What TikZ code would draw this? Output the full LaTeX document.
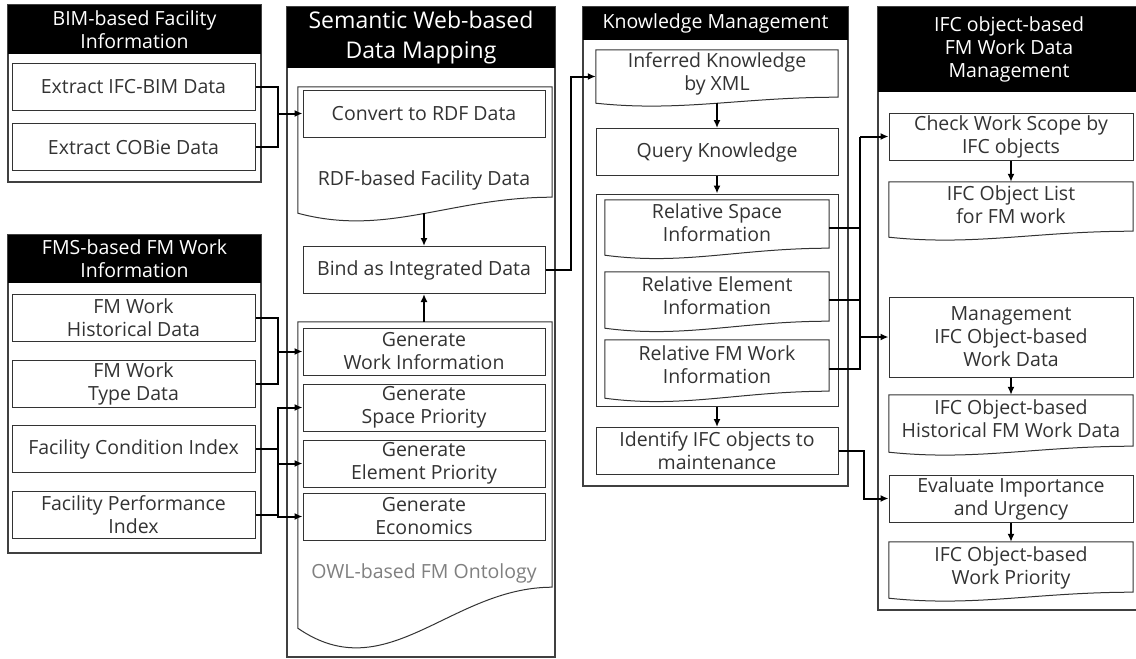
\documentclass[tikz,border=0pt]{standalone}
\usepackage{fontspec}
\setmainfont{Open Sans}
\usetikzlibrary{positioning,arrows.meta,calc}

\tikzset{
  group/.style={draw=black!75, line width=1.3pt, fill=white, inner sep=0pt},
  head/.style={fill=black, text=white, inner sep=0pt, align=center, font=\fontsize{19.5}{23}\selectfont},
  box/.style={draw=black!80, line width=1pt, fill=white, inner sep=0pt, align=center, text=black!80,
    font=\fontsize{19.5}{23}\selectfont, minimum width=242pt, minimum height=47pt},
  doc/.style={inner sep=0pt, align=center, text=black!80, font=\fontsize{19.5}{23}\selectfont,
    minimum width=242pt, text depth=9pt},
  docline/.style={draw=black!80, line width=1pt},
  plain/.style={inner sep=0pt, text=black!80, font=\fontsize{19.5}{23}\selectfont},
  link/.style={line width=2pt},
  arrow/.style={-{Latex[length=8pt,width=7pt]}, line width=2pt}
}

% document symbol: straight top and sides, wavy bottom
\newcommand{\docoutline}[2]{%
  \draw[docline] (#1.north west) -- (#1.north east) -- ([yshift=#2pt]#1.south east)
    .. controls ([yshift=#2pt]$(#1.south west)!0.6!(#1.south east)$)
    and ([yshift=-1.5*#2pt]$(#1.south west)!0.35!(#1.south east)$) .. (#1.south west) -- cycle;}

\begin{document}
\begin{tikzpicture}[x=1pt, y=-1pt]
  \useasboundingbox (0,0) rectangle (1136,659);

  % BIM / FMS sources
  \node[group, minimum width=253pt, minimum height=177pt] (bimgrp) at (134.5,93.5) {};
  \node[head, minimum width=253pt, minimum height=49pt] (bimhead) at (134.5,29.5) {BIM-based Facility\\Information};
  \node[box, minimum width=243pt] (ifcbim) at (133.5,86.5) {Extract IFC-BIM Data};
  \node[box, minimum width=243pt] (cobie) at (133.5,147) {Extract COBie Data};

  \node[group, minimum width=253pt, minimum height=318pt] (fmsgrp) at (134.5,394) {};
  \node[head, minimum width=253pt, minimum height=48pt] (fmshead) at (134.5,259) {FMS-based FM Work\\Information};
  \node[box, minimum width=243pt] (hist) at (133.5,318) {FM Work\\Historical Data};
  \node[box, minimum width=243pt] (type) at (133.5,383.5) {FM Work\\Type Data};
  \node[box, minimum width=243pt] (fci) at (133.5,449) {Facility Condition Index};
  \node[box, minimum width=243pt] (fpi) at (133.5,515) {Facility Performance\\Index};

  % semantic web mapping
  \node[group, minimum width=268pt, minimum height=650pt] (semgrp) at (421,332) {};
  \node[head, font=\fontsize{23}{30}\selectfont, minimum width=268pt, minimum height=61pt] (semhead) at (421,37.5) {Semantic Web-based\\Data Mapping};
  \node[doc, minimum width=254pt, minimum height=126pt] (rdf) at (425,150) {};
  \node[plain] (rdftext) at (424,180) {RDF-based Facility Data};
  \node[box] (convert) at (424,113.5) {Convert to RDF Data};
  \node[box] (bind) at (424,270) {Bind as Integrated Data};
  \node[doc, minimum width=254pt, minimum height=306pt] (owl) at (425,475) {};
  \node[box] (genwork) at (424,351.5) {Generate\\Work Information};
  \node[box] (genspace) at (424,407.5) {Generate\\Space Priority};
  \node[box] (genelem) at (424,463.5) {Generate\\Element Priority};
  \node[box] (genecon) at (424,516.5) {Generate\\Economics};
  \node[plain, text=black!50] (owltext) at (424,573) {OWL-based FM Ontology};

  % knowledge management
  \node[group, minimum width=265pt, minimum height=479pt] (kmgrp) at (715.5,246.5) {};
  \node[head, minimum width=265pt, minimum height=33pt] (kmhead) at (715.5,23.5) {Knowledge Management};
  \node[doc, minimum height=53pt] (inferred) at (717,76.5) {Inferred Knowledge\\by XML};
  \node[box] (query) at (717,152) {Query Knowledge};
  \node[box, minimum height=212pt] (relgrp) at (717,300) {};
  \node[doc, minimum width=224pt, minimum height=55pt] (relspace) at (717,227.5) {Relative Space\\Information};
  \node[doc, minimum width=224pt, minimum height=56pt] (relelem) at (717,300) {Relative Element\\Information};
  \node[doc, minimum width=224pt, minimum height=58pt] (relfm) at (717,369) {Relative FM Work\\Information};
  \node[box] (identify) at (717,451) {Identify IFC objects to\\maintenance};

  % IFC object-based work data
  \node[group, minimum width=262pt, minimum height=603pt] (ifcgrp) at (1009,308.5) {};
  \node[head, minimum width=262pt, minimum height=85pt] (ifchead) at (1009,49.5) {IFC object-based\\FM Work Data\\Management};
  \node[box, minimum width=244pt] (check) at (1011,136.5) {Check Work Scope by\\IFC objects};
  \node[doc, minimum width=244pt, minimum height=55pt] (objlist) at (1011,209.5) {IFC Object List\\for FM work};
  \node[box, minimum width=244pt, minimum height=80pt] (mgmt) at (1011,337) {Management\\IFC Object-based\\Work Data};
  \node[doc, minimum width=244pt, minimum height=57pt] (histfm) at (1011,423.5) {IFC Object-based\\Historical FM Work Data};
  \node[box, minimum width=244pt] (evaluate) at (1011,498.5) {Evaluate Importance\\and Urgency};
  \node[doc, minimum width=244pt, minimum height=56pt] (priority) at (1011,570) {IFC Object-based\\Work Priority};

  \foreach \n/\rise in {rdf/16, owl/41, inferred/6, relspace/7, relelem/7, relfm/7, objlist/6, histfm/6, priority/6}
    \docoutline{\n}{\rise};

  % sources -> mapping
  \coordinate (bimjoin) at (278,113.5);
  \draw[link] (ifcbim.east) -| (bimjoin);
  \draw[link] (cobie.east) -| (bimjoin);
  \draw[arrow] (bimjoin) -- (convert.west);

  \coordinate (fmsjoin) at (278,351.5);
  \draw[link] (hist.east) -| (fmsjoin);
  \draw[link] (type.east) -| (fmsjoin);
  \draw[arrow] (fmsjoin) -- (genwork.west);

  \coordinate (idxjoin) at (278,449);
  \draw[link] (fci.east) -- (idxjoin);
  \draw[link] (fpi.east) -| (idxjoin);
  \foreach \g in {genspace, genelem, genecon}
    \draw[arrow] (idxjoin) |- (\g.west);

  \draw[arrow] (rdf.south -| bind.north) -- (bind.north);
  \draw[arrow] (owl.north -| bind.south) -- (bind.south);

  % mapping -> knowledge
  \coordinate (bindjoin) at (571,270);
  \draw[arrow] (bind.east) -- (bindjoin) |- (inferred.west);
  \draw[arrow] (inferred.south) -- (query.north);
  \draw[arrow] (query.south) -- (relgrp.north);
  \draw[arrow] (relgrp.south) -- (identify.north);

  % knowledge -> work data
  \coordinate (reltop) at (860,136.5);
  \draw[link] (relfm.east) -| (reltop);
  \draw[link] (relspace.east) -- (relspace.east -| reltop);
  \draw[link] (relelem.east) -- (relelem.east -| reltop);
  \draw[arrow] (reltop) -- (check.west);
  \draw[arrow] (mgmt.west -| reltop) -- (mgmt.west);

  \coordinate (idjoin) at (864,451);
  \draw[arrow] (identify.east) -- (idjoin) |- (evaluate.west);

  \draw[arrow] (check.south) -- (objlist.north);
  \draw[arrow] (mgmt.south) -- (histfm.north);
  \draw[arrow] (evaluate.south) -- (priority.north);
\end{tikzpicture}
\end{document}
